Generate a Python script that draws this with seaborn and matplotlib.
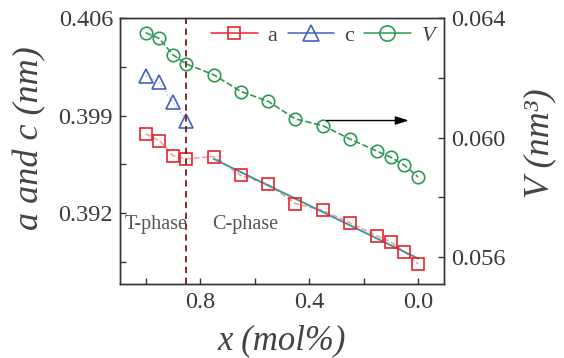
import numpy as np
import pandas as pd
import matplotlib
matplotlib.use("Agg")
import matplotlib.pyplot as plt
from matplotlib.lines import Line2D
import seaborn as sns

# ---- data ----
x_all = [1.0, 0.95, 0.9, 0.85, 0.75, 0.65, 0.55, 0.45, 0.35, 0.25, 0.15, 0.10, 0.05, 0.0]
a_vals = [0.39769, 0.39721, 0.39614, 0.39591, 0.39607, 0.39471, 0.39407, 0.39269,
          0.39221, 0.39131, 0.39038, 0.38995, 0.38924, 0.38836]
x_c = [1.0, 0.95, 0.9, 0.85]
c_vals = [0.40186, 0.40138, 0.39995, 0.39864]
V_vals = [0.06351, 0.06332, 0.06277, 0.06246, 0.06210, 0.06154, 0.06121, 0.06062,
          0.06040, 0.05995, 0.05954, 0.05934, 0.05907, 0.05868]
boundary_x = 0.85

x_ticks = [1.0, 0.8, 0.6, 0.4, 0.2, 0.0]
x_ticklabels = ["", "0.8", "", "0.4", "", "0.0"]
yl_ticks = [0.3885, 0.392, 0.3955, 0.399, 0.4025, 0.406]
yl_ticklabels = ["", "0.392", "", "0.399", "", "0.406"]
yr_ticks = [0.056, 0.058, 0.060, 0.062, 0.064]
yr_ticklabels = ["0.056", "", "0.060", "", "0.064"]

RED = "#E8232A"
BLUE = "#4262C0"
GREEN = "#2F9A55"
TEAL = "#3E9A9C"
DARKRED = "#7A1A1A"
TXT = "#333333"

sns.set_style("ticks")
plt.rcParams["font.family"] = ["Liberation Serif", "DejaVu Serif"]
plt.rcParams["mathtext.fontset"] = "custom"
plt.rcParams["mathtext.rm"] = "Liberation Serif"
plt.rcParams["mathtext.it"] = "Liberation Serif:italic"

fig = plt.figure(figsize=(5.64, 3.58), dpi=100)
ax = fig.add_axes([120/564, 1-284/358, 324/564, 266/358])
ax2 = ax.twinx()

df_a = pd.DataFrame({"x": x_all, "a": a_vals})
df_c = pd.DataFrame({"x": x_c, "c": c_vals})
df_V = pd.DataFrame({"x": x_all, "V": V_vals})

# connecting lines
sns.lineplot(data=df_a, x="x", y="a", ax=ax, color=RED, alpha=0.45, lw=1.1,
             linestyle="--", sort=False, legend=False)
sns.lineplot(data=df_c, x="x", y="c", ax=ax, color=BLUE, alpha=0.45, lw=1.0,
             linestyle=":", sort=False, legend=False)
sns.lineplot(data=df_V, x="x", y="V", ax=ax2, color=GREEN, lw=1.2,
             linestyle="--", sort=False, legend=False)

# linear fit in C-phase
sns.regplot(data=df_a[df_a["x"] <= 0.75], x="x", y="a", ax=ax, scatter=False,
            ci=None, truncate=True, line_kws=dict(color=TEAL, lw=1.4))

# markers
ax.plot(df_a["x"], df_a["a"], ls="none", marker="s", ms=8, mfc="none",
        mec=RED, mew=1.2)
ax.plot(df_c["x"], df_c["c"], ls="none", marker="^", ms=10, mfc="none",
        mec=BLUE, mew=1.2)
ax2.plot(df_V["x"], df_V["V"], ls="none", marker="o", ms=9, mfc="none",
         mec=GREEN, mew=1.2)

ax.axvline(boundary_x, color=DARKRED, lw=1.3, ls=(0, (3.5, 2.5)))

ax.set_xlim(1.094, -0.095)
ax.set_ylim(0.38693, 0.406)
ax2.set_ylim(0.0551, 0.064)

ax.set_xticks(x_ticks)
ax.set_xticklabels(x_ticklabels)
ax.set_yticks(yl_ticks)
ax.set_yticklabels(yl_ticklabels)
ax2.set_yticks(yr_ticks)
ax2.set_yticklabels(yr_ticklabels)

for a_ in (ax, ax2):
    a_.tick_params(direction="in", length=4, width=1, labelsize=17.5,
                   labelcolor="#3a3a3a", color=TXT, pad=5)
    for s in a_.spines.values():
        s.set_color(TXT)
        s.set_linewidth(1.0)
        s.set_visible(True)
ax.tick_params(axis="x", pad=6)
ax.tick_params(top=False, right=False)
ax2.tick_params(top=False, left=False)

ax.set_xlabel("x (mol%)", fontsize=25, style="italic", color="#444444")
ax.xaxis.set_label_coords(0.5, -0.152)
ax.set_ylabel("a and c (nm)", fontsize=26, style="italic", color="#444444")
ax.yaxis.set_label_coords(-0.228, 0.55)
ax2.set_ylabel("V (nm³)", fontsize=26, style="italic", color="#444444",
               rotation=90)
ax2.yaxis.set_label_coords(1.244, 0.53)

ax.text(1.075, 0.39121, "T-phase", fontsize=14.5, color="#555555",
        ha="left", va="center")
ax.text(0.757, 0.39121, "C-phase", fontsize=14.5, color="#555555",
        ha="left", va="center")

ax2.annotate("", xy=(0.034, 0.06057), xytext=(0.336, 0.06057),
             arrowprops=dict(arrowstyle="-|>,head_length=0.8,head_width=0.25",
                             color="black", lw=1.0, mutation_scale=10,
                             shrinkA=0, shrinkB=0))

handles = [
    Line2D([], [], color=RED, lw=1.1, marker="s", ms=9, mfc="none", mec=RED, mew=1.2),
    Line2D([], [], color=BLUE, lw=1.1, marker="^", ms=11, mfc="none", mec=BLUE, mew=1.2),
    Line2D([], [], color=GREEN, lw=1.1, marker="o", ms=11, mfc="none", mec=GREEN, mew=1.2),
]
leg = ax.legend(handles, ["a", "c", "$\\mathit{V}$"], ncol=3, frameon=False,
                loc="center", bbox_to_anchor=(0.632, 0.933), fontsize=16,
                handlelength=2.1, handletextpad=0.45, columnspacing=0.45,
                borderpad=0.2, labelcolor="#444444")

fig.savefig("out.png", dpi=100)
